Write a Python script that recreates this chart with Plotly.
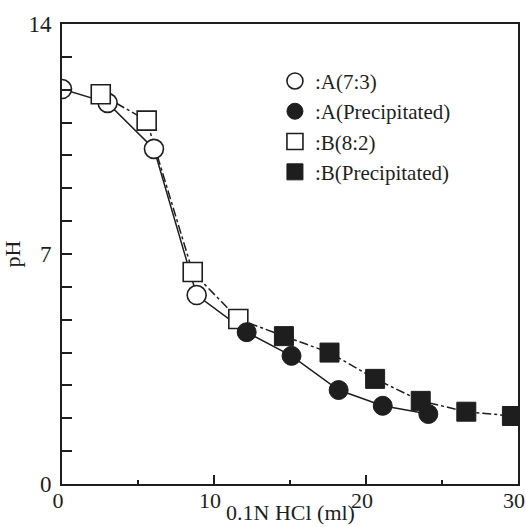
import plotly.graph_objects as go

# Titration of two samples with 0.1N HCl
a_open_x = [0.0, 3.0, 6.05, 8.86]
a_open_y = [12.02, 11.6, 10.2, 5.75]
a_prec_x = [12.15, 15.1, 18.2, 21.1, 24.1]
a_prec_y = [4.62, 3.9, 2.86, 2.38, 2.13]

b_open_x = [2.55, 5.57, 8.6, 11.6]
b_open_y = [11.86, 11.06, 6.45, 5.02]
b_prec_x = [14.6, 17.6, 20.6, 23.6, 26.6, 29.6]
b_prec_y = [4.5, 4.0, 3.2, 2.53, 2.2, 2.07]

x_ticks = [0, 10, 20, 30]
y_ticks = [0, 7, 14]

INK = "#1e1e1e"
FONT = "Liberation Serif"
MS = 19

fig = go.Figure()

# connecting lines (drawn underneath the markers)
fig.add_trace(go.Scatter(x=a_open_x + a_prec_x, y=a_open_y + a_prec_y, mode="lines",
                         line=dict(color=INK, width=1.5), showlegend=False, hoverinfo="skip"))
fig.add_trace(go.Scatter(x=b_open_x + b_prec_x, y=b_open_y + b_prec_y, mode="lines",
                         line=dict(color=INK, width=1.5, dash="dashdot"), showlegend=False, hoverinfo="skip"))

# markers; filled circles go last so they sit above the filled squares
fig.add_trace(go.Scatter(x=a_open_x, y=a_open_y, mode="markers", name=":A(7:3)", legendrank=1,
                         marker=dict(symbol="circle", size=MS, color="white", line=dict(color=INK, width=1.6))))
fig.add_trace(go.Scatter(x=b_open_x, y=b_open_y, mode="markers", name=":B(8:2)", legendrank=3,
                         marker=dict(symbol="square", size=MS, color="white", line=dict(color=INK, width=1.6))))
fig.add_trace(go.Scatter(x=b_prec_x, y=b_prec_y, mode="markers", name=":B(Precipitated)", legendrank=4,
                         marker=dict(symbol="square", size=MS, color=INK, line=dict(color=INK, width=1))))
fig.add_trace(go.Scatter(x=a_prec_x, y=a_prec_y, mode="markers", name=":A(Precipitated)", legendrank=2,
                         marker=dict(symbol="circle", size=MS, color=INK, line=dict(color=INK, width=1))))

fig.update_layout(
    width=526, height=527,
    margin=dict(l=62, r=8, t=24, b=43),
    paper_bgcolor="white", plot_bgcolor="white",
    font=dict(family=FONT, color=INK, size=20),
    showlegend=True,
    legend=dict(x=0.467, y=0.92, xanchor="left", yanchor="top",
                font=dict(family=FONT, size=21, color=INK),
                bgcolor="rgba(0,0,0,0)", traceorder="normal",
                itemwidth=30, tracegroupgap=0),
    annotations=[
        dict(text="0.1N HCl (ml)", xref="paper", yref="paper", x=0.5, y=-0.093,
             xanchor="center", yanchor="bottom", showarrow=False,
             font=dict(family=FONT, size=22, color=INK)),
    ],
)

fig.update_xaxes(
    range=[0, 30], tickvals=x_ticks, ticktext=[str(v) for v in x_ticks],
    ticks="inside", ticklen=9, tickwidth=1.5, tickcolor=INK,
    minor=dict(dtick=5, tick0=0, ticks="inside", ticklen=4, tickwidth=1.5, tickcolor=INK),
    showline=True, linecolor=INK, linewidth=2, mirror=True,
    showgrid=False, zeroline=False, automargin=False, ticklabeloverflow="allow",
    ticklabelstandoff=-4, ticklabelshift=-4,
    tickfont=dict(family=FONT, size=22, color=INK),
)
fig.update_yaxes(
    range=[0, 14], tickvals=y_ticks, ticktext=[str(v) for v in y_ticks],
    ticks="inside", ticklen=10, tickwidth=1.5, tickcolor=INK,
    minor=dict(dtick=1, tick0=0, ticks="inside", ticklen=10, tickwidth=1.5, tickcolor=INK),
    showline=True, linecolor=INK, linewidth=2, mirror=True,
    showgrid=False, zeroline=False, automargin=False, ticklabeloverflow="allow",
    ticklabelstandoff=4,
    tickfont=dict(family=FONT, size=23, color=INK),
    title=dict(text="pH", font=dict(family=FONT, size=22, color=INK), standoff=10),
)

fig.write_html("out.html")
